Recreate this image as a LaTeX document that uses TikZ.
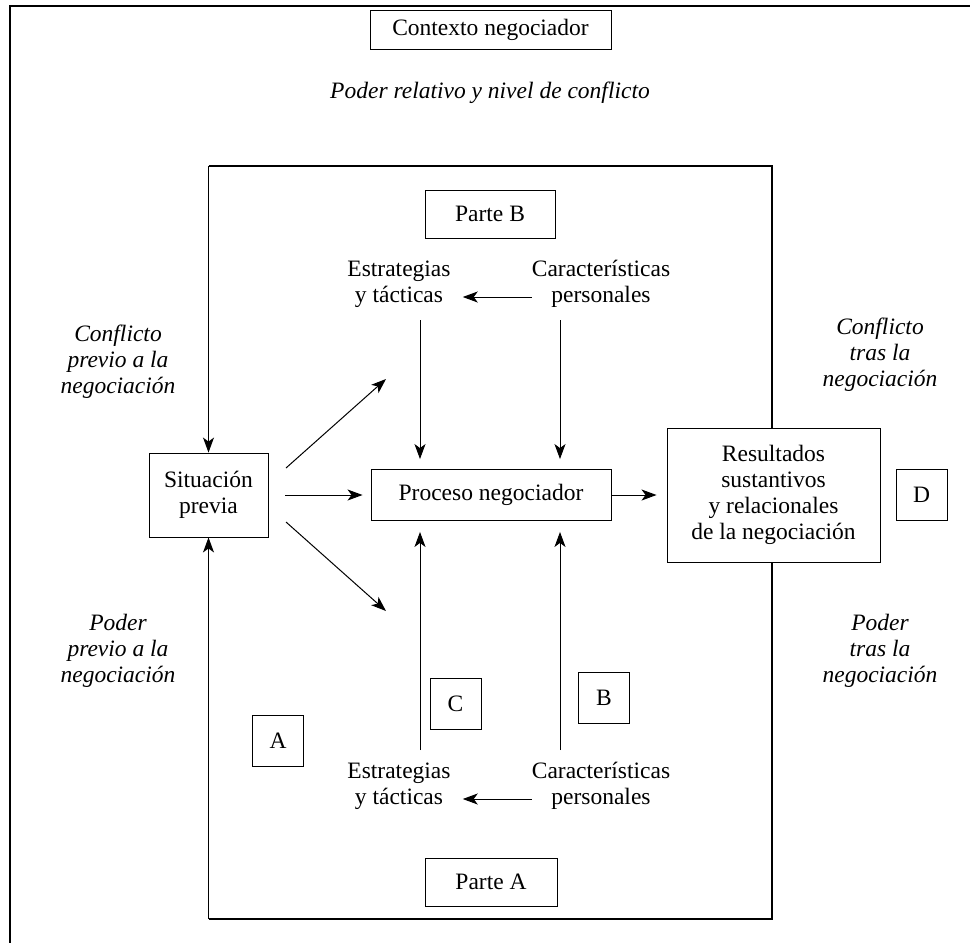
\documentclass[tikz,border=0pt]{standalone}
\usepackage{fontspec}
\setmainfont{Liberation Serif}
\usetikzlibrary{arrows.meta}

\begin{document}
\begin{tikzpicture}[x=1pt,y=-1pt,
  txt/.style={font=\fontsize{23.5}{26}\selectfont, align=center, inner sep=0pt},
  slant/.style={txt, font=\fontsize{23.5}{26}\selectfont\itshape},
  box/.style={txt, draw, line width=0.9pt, fill=white},
  letterbox/.style={box, minimum width=51pt, minimum height=51pt},
  frameline/.style={line width=1.2pt},
  arr/.style={line width=1pt, -{Stealth[length=15pt, width=11pt, inset=4pt]}}]

\useasboundingbox (0,0) rectangle (970,943);

% outer context border (top and left edges)
\draw[line width=2pt] (10,943) -- (10,6) -- (970,6);

% inner frame corners
\coordinate (ftl) at (208.5,166);
\coordinate (ftr) at (772,166);
\coordinate (fbl) at (208.5,919);
\coordinate (fbr) at (772,919);
\draw[frameline] (ftl) -- (ftr) -- (fbr) -- (fbl);

% context
\node[box, minimum width=241pt, minimum height=39pt] (ctx) at (490.5,29.5) {Contexto negociador};
\node[slant] (rel) at (490,93) {Poder relativo y nivel de conflicto};

% parties
\node[box, minimum width=130pt, minimum height=48pt] (parteB) at (490,214) {Parte B};
\node[box, minimum width=132pt, minimum height=48pt] (parteA) at (491,882) {Parte A};

% central row
\node[box, minimum width=119pt, minimum height=84pt] (sit) at (208.5,495) {Situación\\previa};
\node[box, minimum width=240pt, minimum height=51pt] (proc) at (491,495) {Proceso negociador};
\node[box, minimum width=213pt, minimum height=134pt] (res) at (773.5,495) {Resultados\\sustantivos\\y relacionales\\de la negociación};
\node[letterbox] (D) at (921.5,495) {D};

% party B factors
\node[txt] (estB) at (399,284) {Estrategias\\y tácticas};
\node[txt] (carB) at (601,284) {Características\\personales};
% party A factors
\node[txt] (estA) at (399,786) {Estrategias\\y tácticas};
\node[txt] (carA) at (601,786) {Características\\personales};

% letter tags
\node[letterbox] (A) at (278,741) {A};
\node[letterbox] (C) at (455.5,704) {C};
\node[letterbox] (B) at (604,698) {B};

% side captions
\node[slant] (confPre) at (118,362) {Conflicto\\previo a la\\negociación};
\node[slant] (podPre) at (118,651) {Poder\\previo a la\\negociación};
\node[slant] (confPost) at (880,355) {Conflicto\\tras la\\negociación};
\node[slant] (podPost) at (880,651) {Poder\\tras la\\negociación};

% frame sides feeding the prior situation
\draw[arr] (ftl) -- (sit.north);
\draw[arr] (fbl) -- (sit.south);

% main flow
\draw[arr, shorten <=17pt, shorten >=8pt] (sit.east) -- (proc.west);
\draw[arr, shorten >=10pt] (proc.east) -- (res.west);

% prior situation to the strategies of each party
\coordinate (dgB0) at (286,468);
\coordinate (dgB1) at (386,379);
\coordinate (dgA0) at (286,522);
\coordinate (dgA1) at (386,611);
\draw[arr] (dgB0) -- (dgB1);
\draw[arr] (dgA0) -- (dgA1);

% personal characteristics shape strategies
\draw[arr, shorten >=12pt] ([yshift=-13pt]carB.west) -- ([yshift=-13pt]estB.east);
\draw[arr, shorten >=12pt] ([yshift=-13pt]carA.west) -- ([yshift=-13pt]estA.east);

% factors into the negotiation process
\coordinate (vB1) at (420,320);
\coordinate (vB2) at (560,320);
\coordinate (vA1) at (420,750);
\coordinate (vA2) at (560,750);
\draw[arr, shorten >=10pt] (vB1) -- (vB1 |- proc.north);
\draw[arr, shorten >=10pt] (vB2) -- (vB2 |- proc.north);
\draw[arr, shorten >=11pt] (vA1) -- (vA1 |- proc.south);
\draw[arr, shorten >=11pt] (vA2) -- (vA2 |- proc.south);

\end{tikzpicture}
\end{document}
